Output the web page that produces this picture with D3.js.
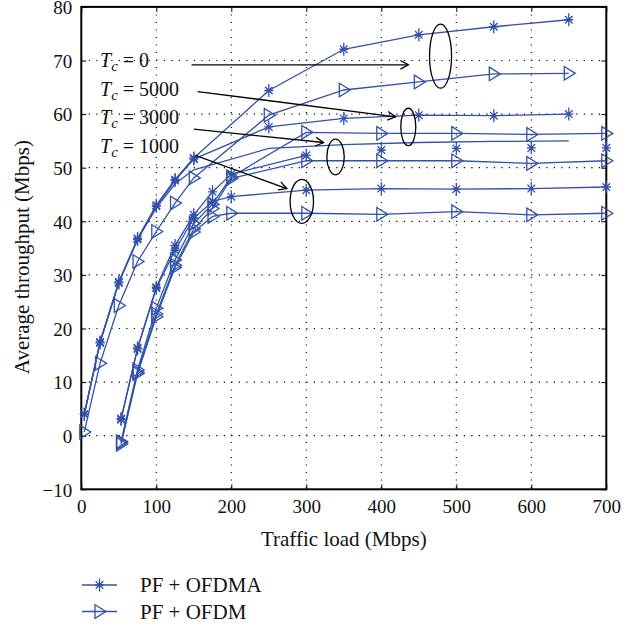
<!DOCTYPE html>
<html>
<head>
<meta charset="utf-8">
<script src="https://cdn.jsdelivr.net/npm/d3@7"></script>
<style>
  body { margin: 0; background: #fff; }
  svg { font-family: "Liberation Serif", "DejaVu Serif", serif; }
</style>
</head>
<body>
<div id="chart"></div>
<script>
// chart data
const xTicks = [0, 100, 200, 300, 400, 500, 600, 700];
const yTicks = [-10, 0, 10, 20, 30, 40, 50, 60, 70, 80];

// two sampling grids used by the curves
const loadA = [4, 25, 50, 75, 100, 125, 150, 250, 350, 450, 550, 650];
const loadB = [53, 75, 100, 125, 150, 175, 200, 300, 400, 500, 600, 700];

const tc0Ofdma = [4, 17.5, 28.7, 36.8, 43, 47.8, 51.8, 64.4, 72.1, 74.8, 76.3, 77.6];
const tc5000Ofdma = [4, 17.3, 28.5, 36.6, 42.8, 47.6, 51.6, 57.6, 59.2, 59.8, 59.7, 60.0];
const tc0Ofdm = [0.7, 13.5, 24.3, 32.5, 38.1, 43.4, 48.1, 59.8, 64.5, 66.0, 67.5, 67.6];
const tc3000Line = [4, 17.5, 28.7, 36.6, 42.5, 47, 49.6, 53.6, 54.3, 54.7, 54.9, 55.0];

const tc3000Ofdma = [3.2, 16.4, 27.7, 35.5, 41.2, 45.5, 48.8, 52.3, 53.3, 53.6, 53.7, 53.7];
const tc1000Ofdma = [3.0, 16.2, 27.5, 34.6, 40.6, 43.7, 44.6, 45.8, 46.1, 46.0, 46.1, 46.4];
const tc5000Ofdm = [-1.1, 12.3, 23.8, 32.8, 39.6, 43.2, 48.3, 56.6, 56.4, 56.4, 56.2, 56.4];
const tc3000Ofdm = [-1.3, 11.9, 22.7, 31.8, 38.6, 42.4, 48.0, 51.3, 51.3, 51.3, 50.8, 51.3];
const tc1000Ofdm = [-1.6, 11.6, 22.2, 31.4, 38.0, 40.9, 41.5, 41.5, 41.3, 41.8, 41.2, 41.5];

const series = [
  { x: loadA, y: tc0Ofdma, marker: "star" },
  { x: loadA, y: tc5000Ofdma, marker: "star" },
  { x: loadA, y: tc0Ofdm, marker: "tri" },
  { x: loadA, y: tc3000Line, marker: "none" },
  { x: loadB, y: tc3000Ofdma, marker: "star", lineTo: 300 },
  { x: loadB, y: tc1000Ofdma, marker: "star" },
  { x: loadB, y: tc5000Ofdm, marker: "tri" },
  { x: loadB, y: tc3000Ofdm, marker: "tri" },
  { x: loadB, y: tc1000Ofdm, marker: "tri" }
];

const tcLabels = ["0", "5000", "3000", "1000"];
// arrow start / end and ellipse centre, in data units
const arrowFrom = [[147, 69.2], [155, 64.2], [150, 57.2], [152, 52.3]];
const arrowTo = [[436, 69.2], [419, 59.5], [323, 54.7], [274, 46.1]];
const ellipseAt = [[479, 70.8], [436, 57.6], [339, 52.0], [294, 43.7]];
const ellipseR = [[11, 32], [7.5, 18.7], [8.7, 17.8], [11.7, 22]];

const legendNames = ["PF + OFDMA", "PF + OFDM"];
const legendMarkers = ["star", "tri"];

const width = 639;
const height = 628;
const blue = "#3151aa";

const svg = d3.select("#chart")
    .append("svg")
    .attr("width", width)
    .attr("height", height);

const x = d3.scaleLinear().domain([0, 700]).range([81.3, 606.3]);
const y = d3.scaleLinear().domain([-10, 80]).range([489.3, 6.9]);

// dotted grid
const grid = svg.append("g").attr("stroke", "#000").attr("stroke-width", 1.2)
    .attr("stroke-dasharray", "1.2,6.3");
grid.selectAll("line.v")
    .data(xTicks.slice(1, -1))
    .enter().append("line")
    .attr("x1", d => x(d)).attr("x2", d => x(d))
    .attr("y1", y(80)).attr("y2", y(-10));
grid.selectAll("line.h")
    .data(yTicks.slice(1, -1))
    .enter().append("line")
    .attr("y1", d => y(d)).attr("y2", d => y(d))
    .attr("x1", x(0)).attr("x2", x(700));

// axes with inward ticks
const xAxis = svg.append("g")
    .attr("transform", `translate(0,${y(-10)})`)
    .call(d3.axisBottom(x).tickValues(xTicks).tickSizeInner(-5).tickSizeOuter(0).tickPadding(10));
const yAxis = svg.append("g")
    .attr("transform", `translate(${x(0)},0)`)
    .call(d3.axisLeft(y).tickValues(yTicks).tickSizeInner(-5).tickSizeOuter(0).tickPadding(9)
        .tickFormat(d => d < 0 ? "\u2212" + Math.abs(d) : d));
svg.append("g")
    .attr("transform", `translate(0,${y(80)})`)
    .call(d3.axisTop(x).tickValues(xTicks).tickSizeInner(-5).tickSizeOuter(0).tickFormat(""));
svg.append("g")
    .attr("transform", `translate(${x(700)},0)`)
    .call(d3.axisRight(y).tickValues(yTicks).tickSizeInner(-5).tickSizeOuter(0).tickFormat(""));

svg.selectAll(".domain").remove();
svg.selectAll(".tick line").attr("stroke", "#000").attr("stroke-width", 1);
[xAxis, yAxis].forEach(a => a.selectAll("text")
    .attr("font-family", "Liberation Serif, serif")
    .attr("font-size", 19)
    .attr("fill", "#111"));
yAxis.selectAll("text").attr("dy", "0.36em");

svg.append("rect")
    .attr("x", x(0)).attr("y", y(80))
    .attr("width", x(700) - x(0)).attr("height", y(-10) - y(80))
    .attr("fill", "none").attr("stroke", "#000").attr("stroke-width", 2);

// curves
const line = d3.line().x(d => x(d[0])).y(d => y(d[1]));
const plot = svg.append("g");

function drawMarker(g, type) {
  if (type === "star") {
    g.append("path")
      .attr("d", "M0,-6.5V6.5M-4.5,0H4.5M-3.8,-3.8L3.8,3.8M-3.8,3.8L3.8,-3.8")
      .attr("stroke", blue).attr("stroke-width", 1.3).attr("fill", "none");
  } else if (type === "tri") {
    g.append("path")
      .attr("d", "M-4.5,-6.8L6.5,0L-4.5,6.8Z")
      .attr("stroke", blue).attr("stroke-width", 1.3).attr("fill", "none");
  }
}

series.forEach(s => {
  const pts = s.x.map((v, i) => [v, s.y[i]]);
  const linePts = s.lineTo ? pts.filter(p => p[0] <= s.lineTo) : pts;
  plot.append("path")
    .attr("d", line(linePts))
    .attr("fill", "none")
    .attr("stroke", blue)
    .attr("stroke-width", 1.3);
  if (s.marker !== "none") {
    pts.forEach(p => {
      drawMarker(plot.append("g").attr("transform", `translate(${x(p[0])},${y(p[1])})`), s.marker);
    });
  }
});

// annotations
const ann = svg.append("g");
tcLabels.forEach((t, i) => {
  const a = arrowFrom[i], b = arrowTo[i];
  const x1 = x(a[0]), y1 = y(a[1]), x2 = x(b[0]), y2 = y(b[1]);
  ann.append("line")
    .attr("x1", x1).attr("y1", y1).attr("x2", x2).attr("y2", y2)
    .attr("stroke", "#000").attr("stroke-width", 1.3);
  const ang = Math.atan2(y2 - y1, x2 - x1);
  const h = 9, w = 0.5;
  ann.append("path")
    .attr("d", `M${x2 - h * Math.cos(ang - w)},${y2 - h * Math.sin(ang - w)}L${x2},${y2}L${x2 - h * Math.cos(ang + w)},${y2 - h * Math.sin(ang + w)}`)
    .attr("fill", "none").attr("stroke", "#000").attr("stroke-width", 1.3);
  const c = ellipseAt[i];
  ann.append("ellipse")
    .attr("cx", x(c[0])).attr("cy", y(c[1]))
    .attr("rx", ellipseR[i][0]).attr("ry", ellipseR[i][1])
    .attr("fill", "none").attr("stroke", "#000").attr("stroke-width", 1.3);

  const txt = ann.append("text")
    .attr("x", 100).attr("y", 67 + i * 28.5)
    .attr("font-size", 20).attr("fill", "#111")
    .attr("xml:space", "preserve");
  txt.append("tspan").attr("font-style", "italic").text("T");
  txt.append("tspan").attr("font-style", "italic").attr("font-size", 15).attr("dy", 4).text("c");
  txt.append("tspan").attr("dy", -4).text(" = " + t);
});

// axis titles
svg.append("text")
    .attr("x", x(350)).attr("y", 546)
    .attr("text-anchor", "middle")
    .attr("font-size", 21).attr("fill", "#111")
    .text("Traffic load (Mbps)");
svg.append("text")
    .attr("transform", `translate(29,${(y(80) + y(-10)) / 2 + 9}) rotate(-90)`)
    .attr("text-anchor", "middle")
    .attr("font-size", 21).attr("fill", "#111")
    .text("Average throughput (Mbps)");

// legend
const legend = svg.append("g");
legendNames.forEach((name, i) => {
  const ly = 585 + i * 26.5;
  legend.append("line")
    .attr("x1", 82).attr("x2", 117).attr("y1", ly).attr("y2", ly)
    .attr("stroke", blue).attr("stroke-width", 1.3);
  drawMarker(legend.append("g").attr("transform", `translate(99.5,${ly})`), legendMarkers[i]);
  legend.append("text")
    .attr("x", 140).attr("y", ly + 7)
    .attr("font-size", 21).attr("fill", "#111")
    .text(name);
});
</script>
</body>
</html>
